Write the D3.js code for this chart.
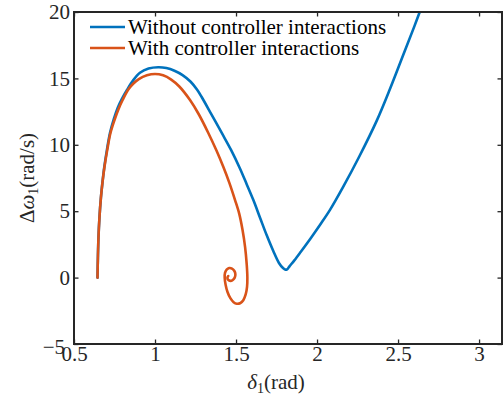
<!DOCTYPE html>
<html>
<head>
<meta charset="utf-8">
<script src="https://cdn.jsdelivr.net/npm/d3@7"></script>
<style>
  body { margin: 0; background: #fff; }
</style>
</head>
<body>
<svg id="chart" width="504" height="398"></svg>
<script>
// Rotor angle δ1 (rad) and speed deviation Δω1 (rad/s) trajectories
const deltaWithout = [0.645,0.6475,0.651,0.657,0.666,0.676,0.687,0.703,0.722,0.746,0.770,0.795,0.827,0.865,0.907,0.960,1.020,1.070,1.120,1.170,1.220,1.260,1.288,1.350,1.412,1.470,1.525,1.567,1.607,1.650,1.689,1.730,1.765,1.790,1.805,1.815,1.830,1.860,1.900,1.960,2.020,2.080,2.162,2.260,2.368,2.450,2.533,2.600,2.640];
const omegaWithout = [0,1.5,3.0,4.5,6.0,7.2,8.33,9.6,10.89,11.95,12.8,13.45,14.13,14.85,15.42,15.74,15.84,15.78,15.58,15.25,14.75,14.15,13.6,12.25,10.89,9.6,8.2,7.0,5.84,4.45,3.2,2.0,1.1,0.72,0.6,0.62,0.85,1.3,1.95,2.95,4.0,5.1,6.85,9.1,11.8,14.2,16.8,18.9,20.2];

const deltaWith = [0.645,0.6475,0.651,0.657,0.666,0.676,0.688,0.705,0.725,0.750,0.775,0.800,0.833,0.865,0.900,0.950,1.000,1.050,1.100,1.150,1.216,1.270,1.329,1.380,1.422,1.460,1.494,1.520,1.540,1.556,1.566,1.570,1.568,1.560,1.545,1.525,1.505,1.485,1.465,1.448,1.436,1.430,1.432,1.442,1.458,1.475,1.490,1.496,1.492,1.480,1.465,1.452,1.447,1.452];
const omegaWith = [0,1.5,3.0,4.5,6.0,7.2,8.33,9.6,10.89,11.87,12.7,13.37,14.13,14.6,14.95,15.23,15.33,15.23,14.91,14.39,13.37,12.3,10.89,9.55,8.33,7.1,5.84,4.8,3.6,2.3,1.0,0.0,-0.7,-1.25,-1.7,-1.93,-1.97,-1.85,-1.55,-1.1,-0.55,0.0,0.35,0.6,0.72,0.68,0.5,0.25,0.0,-0.18,-0.25,-0.18,0.0,0.12];

const xTicks = [0.5, 1, 1.5, 2, 2.5, 3];
const yTicks = [-5, 0, 5, 10, 15, 20];
const seriesNames = ["Without controller interactions", "With controller interactions"];
const seriesColors = ["#0072BD", "#D95319"];

const margin = { left: 74, top: 12, right: 2, bottom: 54 };
const W = 504, H = 398;
const iw = W - margin.left - margin.right;
const ih = H - margin.top - margin.bottom;
const fontSize = 21;
const fontFamily = '"Liberation Serif", "Times New Roman", serif';
const axisColor = "#262626";

const svg = d3.select("#chart")
  .attr("font-family", fontFamily);
const g = svg.append("g").attr("transform", `translate(${margin.left},${margin.top})`);

const x = d3.scaleLinear().domain([0.5, Math.PI]).range([0, iw]);
const y = d3.scaleLinear().domain([-5, 20]).range([ih, 0]);

g.append("clipPath").attr("id", "clip")
  .append("rect").attr("width", iw).attr("height", ih);

const line = d3.line()
  .x(d => x(d[0])).y(d => y(d[1]))
  .curve(d3.curveCatmullRom.alpha(0.5));

const series = [
  d3.zip(deltaWithout, omegaWithout),
  d3.zip(deltaWith, omegaWith)
];

series.forEach((pts, i) => {
  g.append("path")
    .attr("clip-path", "url(#clip)")
    .attr("d", line(pts))
    .attr("fill", "none")
    .attr("stroke", seriesColors[i])
    .attr("stroke-width", 2.6)
    .attr("stroke-linejoin", "round")
    .attr("stroke-linecap", "round");
});

// Axes: ticks pointing inward on all four sides
const tickLen = 4.5;
function styleAxis(sel) {
  sel.attr("font-family", fontFamily).attr("font-size", fontSize);
  sel.select(".domain").remove();
  sel.selectAll(".tick line").attr("stroke", axisColor).attr("stroke-width", 1.3);
  sel.selectAll("text").attr("fill", axisColor)
    .attr("font-family", fontFamily).attr("font-size", fontSize);
}

const xAxis = g.append("g").attr("transform", `translate(0,${ih})`)
  .call(d3.axisBottom(x).tickValues(xTicks).tickSizeInner(-tickLen).tickSizeOuter(0).tickPadding(2)
    .tickFormat(d3.format("")));
styleAxis(xAxis);

const xTop = g.append("g")
  .call(d3.axisTop(x).tickValues(xTicks).tickSizeInner(-tickLen).tickSizeOuter(0).tickFormat(""));
styleAxis(xTop);

const yAxis = g.append("g")
  .call(d3.axisLeft(y).tickValues(yTicks).tickSizeInner(-tickLen).tickSizeOuter(0).tickPadding(4)
    .tickFormat(d => d < 0 ? "\u2212" + Math.abs(d) : d));
styleAxis(yAxis);
// the lowest y label sits a little left and below its tick
yAxis.selectAll(".tick text").filter(d => d === -5).attr("dx", -5).attr("dy", "0.45em");

const yRight = g.append("g").attr("transform", `translate(${iw},0)`)
  .call(d3.axisRight(y).tickValues(yTicks).tickSizeInner(-tickLen).tickSizeOuter(0).tickFormat(""));
styleAxis(yRight);

// Box outline
g.append("rect")
  .attr("width", iw).attr("height", ih)
  .attr("fill", "none").attr("stroke", axisColor).attr("stroke-width", 2);

// Axis labels
const xl = svg.append("text")
  .attr("x", 276).attr("y", 389)
  .attr("text-anchor", "middle")
  .attr("font-family", fontFamily).attr("font-size", fontSize).attr("fill", axisColor);
xl.append("tspan").attr("font-style", "italic").text("\u03b4");
xl.append("tspan").attr("dy", 4).attr("font-size", 14).text("1");
xl.append("tspan").attr("dy", -4).text("(rad)");

const yl = svg.append("text")
  .attr("transform", `translate(34,${margin.top + ih / 2}) rotate(-90)`)
  .attr("text-anchor", "middle")
  .attr("font-family", fontFamily).attr("font-size", fontSize).attr("fill", axisColor);
yl.append("tspan").text("\u0394");
yl.append("tspan").attr("font-style", "italic").text("\u03c9");
yl.append("tspan").attr("dy", 4).attr("font-size", 14).text("1");
yl.append("tspan").attr("dy", -4).text("(rad/s)");

// Legend
const legend = svg.append("g").attr("transform", "translate(90,27)");
seriesNames.forEach((name, i) => {
  const row = legend.append("g").attr("transform", `translate(0,${i * 21})`);
  row.append("line").attr("x1", 0).attr("x2", 35).attr("y1", 0).attr("y2", 0)
    .attr("stroke", seriesColors[i]).attr("stroke-width", 2.6);
  row.append("text").attr("x", 38).attr("y", 7)
    .attr("font-family", fontFamily).attr("font-size", fontSize).attr("fill", "#000")
    .text(name);
});
</script>
</body>
</html>
